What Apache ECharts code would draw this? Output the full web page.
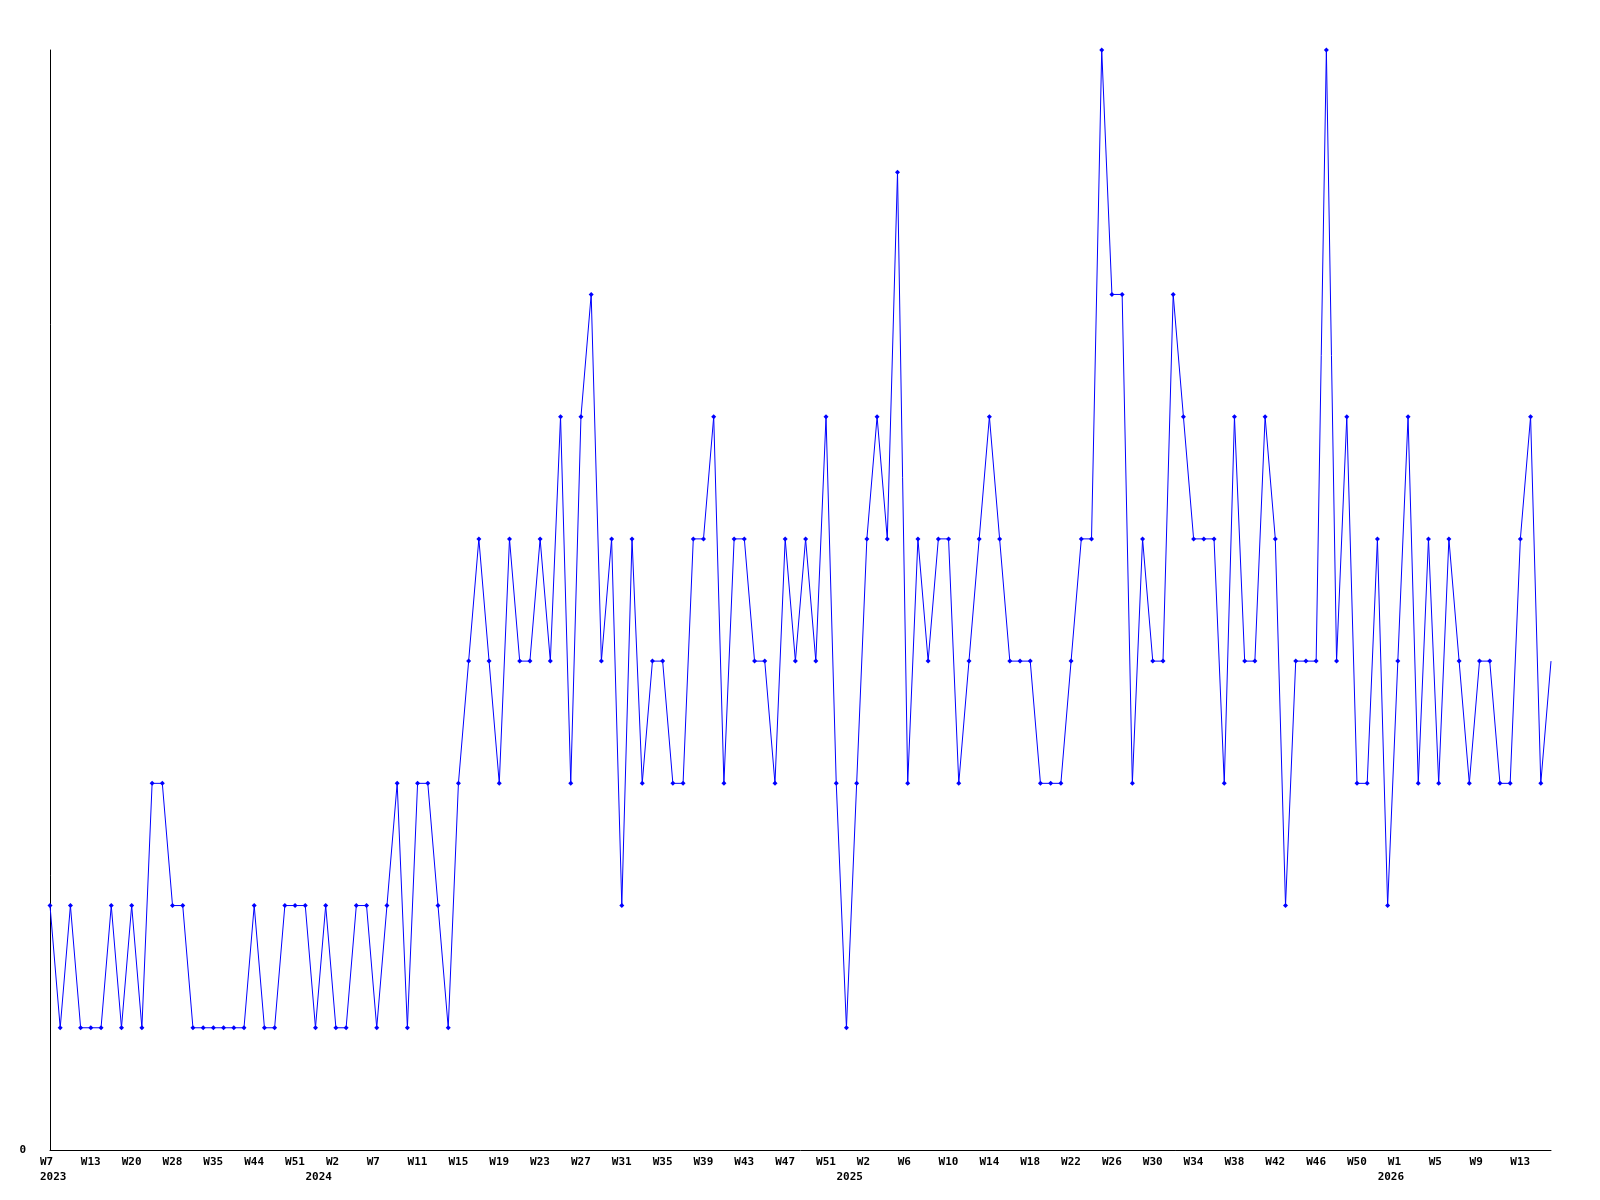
<!DOCTYPE html>
<html>
<head>
<meta charset="utf-8">
<title>weekly counts</title>
<script src="https://cdn.jsdelivr.net/npm/echarts@6/dist/echarts.min.js"></script>
<style>
  html, body { margin: 0; padding: 0; background: #fff; }
  #chart { width: 1600px; height: 1200px; }
</style>
</head>
<body>
<div id="chart"></div>
<script>
// week numbers per year (gaps in 2023 / early 2024 are real gaps in the data)
const weeks2023 = [7, 8, 10, 11, 13, 15, 16, 18, 20, 22, 24, 26, 28, 29, 31, 33, 35, 37, 40, 42, 44, 46, 48, 49, 51, 52]
const weeks2024 = [0, 1, 2, 4, 5, 6, 7, 8, 9, 10, 11, 12, 13, 14, 15, 16, 17, 18, 19, 20, 21, 22, 23, 24, 25, 26, 27,
  28, 29, 30, 31, 32, 33, 34, 35, 36, 37, 38, 39, 40, 41, 42, 43, 44, 45, 46, 47, 48, 49, 50, 51, 52]
const weeks2025 = [0, 1, 2, 3, 4, 5, 6, 7, 8, 9, 10, 11, 12, 13, 14, 15, 16, 17, 18, 19, 20, 21, 22, 23, 24, 25, 26,
  27, 28, 29, 30, 31, 32, 33, 34, 35, 36, 37, 38, 39, 40, 41, 42, 43, 44, 45, 46, 47, 48, 49, 50, 51, 52]
const weeks2026 = [0, 1, 2, 3, 4, 5, 6, 7, 8, 9, 10, 11, 12, 13, 14, 15, 16]

const counts = [
  2, 1, 2, 1, 1, 1, 2, 1, 2, 1,
  3, 3, 2, 2, 1, 1, 1, 1, 1, 1,
  2, 1, 1, 2, 2, 2, 1, 2, 1, 1,
  2, 2, 1, 2, 3, 1, 3, 3, 2, 1,
  3, 4, 5, 4, 3, 5, 4, 4, 5, 4,
  6, 3, 6, 7, 4, 5, 2, 5, 3, 4,
  4, 3, 3, 5, 5, 6, 3, 5, 5, 4,
  4, 3, 5, 4, 5, 4, 6, 3, 1, 3,
  5, 6, 5, 8, 3, 5, 4, 5, 5, 3,
  4, 5, 6, 5, 4, 4, 4, 3, 3, 3,
  4, 5, 5, 9, 7, 7, 3, 5, 4, 4,
  7, 6, 5, 5, 5, 3, 6, 4, 4, 6,
  5, 2, 4, 4, 4, 9, 4, 6, 3, 3,
  5, 2, 4, 6, 3, 5, 3, 5, 4, 3,
  4, 4, 3, 3, 5, 6, 3, 4
]

let weekLabels = []
let yearLabels = []   // year text only on the first week of each year
;[[2023, weeks2023], [2024, weeks2024], [2025, weeks2025], [2026, weeks2026]].forEach(([yr, wks]) => {
  wks.forEach((w, i) => {
    weekLabels.push('W' + w)
    yearLabels.push(i === 0 ? String(yr) : '')
  })
})

const labelFont = {
  fontFamily: 'DejaVu Sans Mono',
  fontWeight: 'bold',
  fontSize: 11,
  color: '#000'
}

let chart = echarts.init(document.getElementById('chart'), null, { renderer: 'canvas' })
chart.setOption({
  animation: false,
  backgroundColor: '#fff',
  grid: {
    left: 50,
    right: 49,
    top: 50,
    bottom: 50,
    containLabel: false,
    outerBoundsMode: 'none'
  },
  xAxis: {
    type: 'category',
    data: weekLabels,
    boundaryGap: false,
    axisLine: { lineStyle: { color: '#000', width: 1 } },
    axisTick: { show: false },
    splitLine: { show: false },
    axisLabel: {
      interval: (idx) => idx % 4 === 0 || yearLabels[idx] !== '',
      margin: 5,
      hideOverlap: false,
      formatter: (val, idx) => {
        let wk = idx % 4 === 0 ? val : ''
        let yr = yearLabels[idx]
        return '{t|' + wk + '}\n{t|' + yr + '}'
      },
      rich: {
        t: Object.assign({ width: 20, align: 'left', lineHeight: 15 }, labelFont)
      }
    }
  },
  yAxis: {
    type: 'value',
    min: 0,
    max: 9,
    interval: 9,
    axisLine: { show: true, lineStyle: { color: '#000', width: 1 } },
    axisTick: { show: false },
    splitLine: { show: false },
    axisLabel: Object.assign({
      margin: 24,
      formatter: (v) => (v === 0 ? '0' : '')
    }, labelFont)
  },
  series: [
    {
      type: 'line',
      data: counts,
      showAllSymbol: true,
      // the last (still running) week has no marker in the original
      symbol: (v, p) => (p.dataIndex === counts.length - 1 ? 'none' : 'diamond'),
      symbolSize: 5,
      lineStyle: { color: '#0000ff', width: 1 },
      itemStyle: { color: '#0000ff' }
    }
  ]
})
</script>
</body>
</html>
